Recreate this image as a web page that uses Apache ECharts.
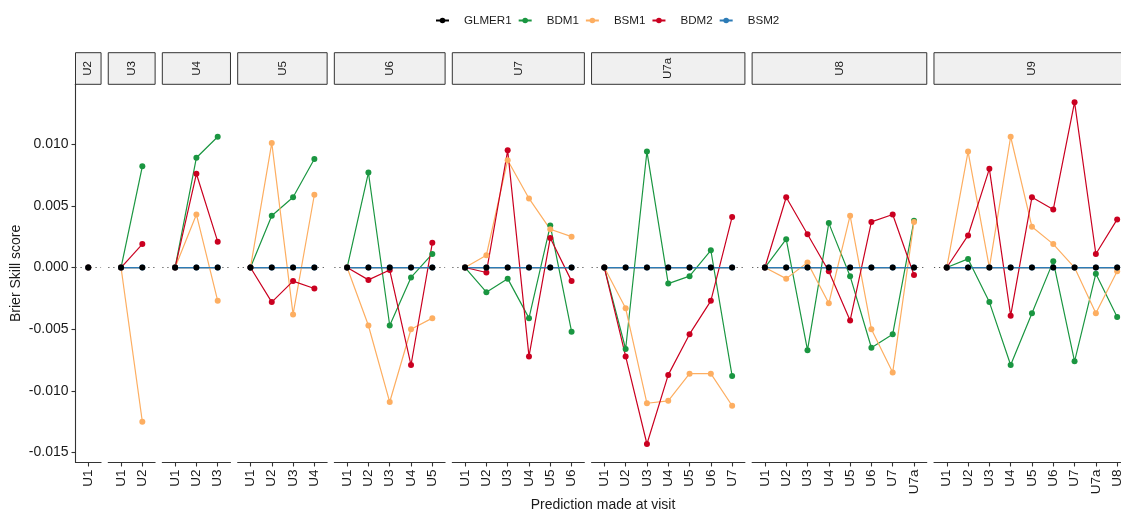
<!DOCTYPE html>
<html>
<head>
<meta charset="utf-8">
<script src="https://cdn.jsdelivr.net/npm/echarts@6/dist/echarts.min.js"></script>
<style>
  html, body { margin: 0; padding: 0; background: #ffffff; }
  #chart { width: 1121px; height: 511px; }
</style>
</head>
<body>
<div id="chart"></div>
<script>
// Visit being predicted (one facet each)
const facets = ['U2', 'U3', 'U4', 'U5', 'U6', 'U7', 'U7a', 'U8', 'U9'];
// Visits a prediction can be made at; facet k uses the first k+1 of them
const visitOrder = ['U1', 'U2', 'U3', 'U4', 'U5', 'U6', 'U7', 'U7a', 'U8'];
const models = ['GLMER1', 'BDM1', 'BSM1', 'BDM2', 'BSM2'];

// Brier skill score per facet, one inner list per facet in the order of `facets`
const GLMER1 = [
  [0],
  [0, 0],
  [0, 0, 0],
  [0, 0, 0, 0],
  [0, 0, 0, 0, 0],
  [0, 0, 0, 0, 0, 0],
  [0, 0, 0, 0, 0, 0, 0],
  [0, 0, 0, 0, 0, 0, 0, 0],
  [0, 0, 0, 0, 0, 0, 0, 0, 0]
];
const BDM1 = [
  [0],
  [0, 0.0082],
  [0, 0.0089, 0.0106],
  [0, 0.0042, 0.0057, 0.0088],
  [0, 0.0077, -0.0047, -0.0008, 0.0011],
  [0, -0.0020, -0.0009, -0.0041, 0.0034, -0.0052],
  [0, -0.0066, 0.0094, -0.0013, -0.0007, 0.0014, -0.0088],
  [0, 0.0023, -0.0067, 0.0036, -0.0007, -0.0065, -0.0054, 0.0038],
  [0, 0.0007, -0.0028, -0.0079, -0.0037, 0.0005, -0.0076, -0.0005, -0.0040]
];
const BSM1 = [
  [0],
  [0, -0.0125],
  [0, 0.0043, -0.0027],
  [0, 0.0101, -0.0038, 0.0059],
  [0, -0.0047, -0.0109, -0.0050, -0.0041],
  [0, 0.0010, 0.0087, 0.0056, 0.0031, 0.0025],
  [0, -0.0033, -0.0110, -0.0108, -0.0086, -0.0086, -0.0112],
  [0, -0.0009, 0.0004, -0.0029, 0.0042, -0.0050, -0.0085, 0.0037],
  [0, 0.0094, 0.0000, 0.0106, 0.0033, 0.0019, 0.0000, -0.0037, -0.0003]
];
const BDM2 = [
  [0],
  [0, 0.0019],
  [0, 0.0076, 0.0021],
  [0, -0.0028, -0.0011, -0.0017],
  [0, -0.0010, -0.0002, -0.0079, 0.0020],
  [0, -0.0004, 0.0095, -0.0072, 0.0024, -0.0011],
  [0, -0.0072, -0.0143, -0.0087, -0.0054, -0.0027, 0.0041],
  [0, 0.0057, 0.0027, -0.0003, -0.0043, 0.0037, 0.0043, -0.0006],
  [0, 0.0026, 0.0080, -0.0039, 0.0057, 0.0047, 0.0134, 0.0011, 0.0039]
];
const BSM2 = [
  [0],
  [0, 0],
  [0, 0, 0],
  [0, 0, 0, 0],
  [0, 0, 0, 0, 0],
  [0, 0, 0, 0, 0, 0],
  [0, 0, 0, 0, 0, 0, 0],
  [0, 0, 0, 0, 0, 0, 0, 0],
  [0, 0, 0, 0, 0, 0, 0, 0, 0]
];
const yTicks = [-0.015, -0.010, -0.005, 0.000, 0.005, 0.010];

const seriesValues = { GLMER1, BDM1, BSM1, BDM2, BSM2 };
const colors = {
  GLMER1: '#000000',
  BDM1: '#1a9641',
  BSM1: '#fdae61',
  BDM2: '#ca0020',
  BSM2: '#2c7bb6'
};

// Panel geometry: width proportional to the number of visits in the facet
const UNIT = 21.3, GAP = 7.2, LEFT0 = 75.5;
const PANEL_TOP = 84.3, PANEL_H = 378.2;
const STRIP_TOP = 52.7, STRIP_H = 31.6;
const FONT = 'Liberation Sans, Arial, sans-serif';
const INK = '#1a1a1a', AXIS = '#333333';

const grids = [], xAxes = [], yAxes = [], graphics = [];
let cursor = LEFT0;
facets.forEach((facet, i) => {
  const n = i + 1;
  const w = (n - 1 + 1.2) * UNIT;
  const idx = Array.from({ length: n }, (_, k) => k);
  grids.push({ left: cursor, top: PANEL_TOP, width: w, height: PANEL_H, outerBoundsMode: 'none', containLabel: false });
  xAxes.push({
    type: 'value', gridIndex: i, min: -0.6, max: n - 1 + 0.6,
    axisLine: { show: true, onZero: false, lineStyle: { color: AXIS, width: 1.1 } },
    axisTick: { show: true, length: 4, customValues: idx, lineStyle: { color: AXIS, width: 1.1 } },
    axisLabel: {
      customValues: idx, rotate: 90, margin: 7,
      formatter: v => visitOrder[Math.round(v)],
      fontSize: 13.5, color: INK, fontFamily: FONT
    },
    splitLine: { show: false }
  });
  const first = i === 0;
  yAxes.push({
    type: 'value', gridIndex: i, min: -0.0158, max: 0.01485,
    axisLine: { show: first, onZero: false, lineStyle: { color: AXIS, width: 1.1 } },
    axisTick: { show: first, length: 4, customValues: yTicks, lineStyle: { color: AXIS, width: 1.1 } },
    axisLabel: {
      show: first, customValues: yTicks, margin: 7,
      formatter: v => v.toFixed(3),
      fontSize: 14, color: INK, fontFamily: FONT
    },
    splitLine: { show: false }
  });
  // Facet strip
  graphics.push({
    type: 'rect', silent: true,
    shape: { x: cursor, y: STRIP_TOP, width: w, height: STRIP_H },
    style: { fill: '#f0f0f0', stroke: AXIS, lineWidth: 1 }
  });
  graphics.push({
    type: 'text', silent: true,
    x: cursor + w / 2, y: STRIP_TOP + STRIP_H / 2, rotation: Math.PI / 2,
    style: { text: facet, fontSize: 11.5, fontFamily: FONT, fill: INK, align: 'center', verticalAlign: 'middle' }
  });
  cursor += w + GAP;
});

// Axis titles
graphics.push({
  type: 'text', silent: true, x: 16, y: PANEL_TOP + PANEL_H / 2, rotation: Math.PI / 2,
  style: { text: 'Brier Skill score', fontSize: 14, fontFamily: FONT, fill: INK, align: 'center', verticalAlign: 'middle' }
});
graphics.push({
  type: 'text', silent: true, x: 603, y: 505,
  style: { text: 'Prediction made at visit', fontSize: 14, fontFamily: FONT, fill: INK, align: 'center', verticalAlign: 'middle' }
});

const series = [];
// Lines first (stacked in model order) so every point sits above every line
models.forEach((m, mi) => {
  seriesValues[m].forEach((vals, i) => {
    const s = {
      type: 'line', name: m, xAxisIndex: i, yAxisIndex: i,
      data: vals.map((v, j) => [j, v]),
      symbol: 'circle', showSymbol: false, silent: true,
      lineStyle: { color: colors[m], width: 1.2 },
      itemStyle: { color: colors[m] },
      emphasis: { disabled: true },
      z: 2 + mi
    };
    if (m === 'GLMER1') {
      s.markLine = {
        silent: true, symbol: ['none', 'none'], label: { show: false },
        lineStyle: { type: [1.2, 3.8], color: '#555555', width: 1 },
        emphasis: { disabled: true },
        data: [{ yAxis: 0 }]
      };
    }
    series.push(s);
  });
});
['BDM1', 'BSM1', 'BDM2', 'BSM2', 'GLMER1'].forEach((m, mi) => {
  seriesValues[m].forEach((vals, i) => {
    series.push({
      type: 'scatter', name: m, xAxisIndex: i, yAxisIndex: i,
      data: vals.map((v, j) => [j, v]),
      symbol: 'circle', symbolSize: 6, silent: true,
      itemStyle: { color: colors[m], opacity: 1 },
      emphasis: { disabled: true },
      z: 10 + mi
    });
  });
});

const chart = echarts.init(document.getElementById('chart'), null, { renderer: 'canvas' });
chart.setOption({
  animation: false,
  backgroundColor: '#ffffff',
  textStyle: { fontFamily: FONT },
  legend: {
    data: models, left: 435, top: 14.5, padding: 0,
    itemWidth: 13, itemHeight: 7, itemGap: 6,
    textStyle: { fontSize: 11.6, color: INK, fontFamily: FONT, padding: [0, 0, 0, 10] }
  },
  grid: grids,
  xAxis: xAxes,
  yAxis: yAxes,
  graphic: graphics,
  series: series
});
</script>
</body>
</html>
